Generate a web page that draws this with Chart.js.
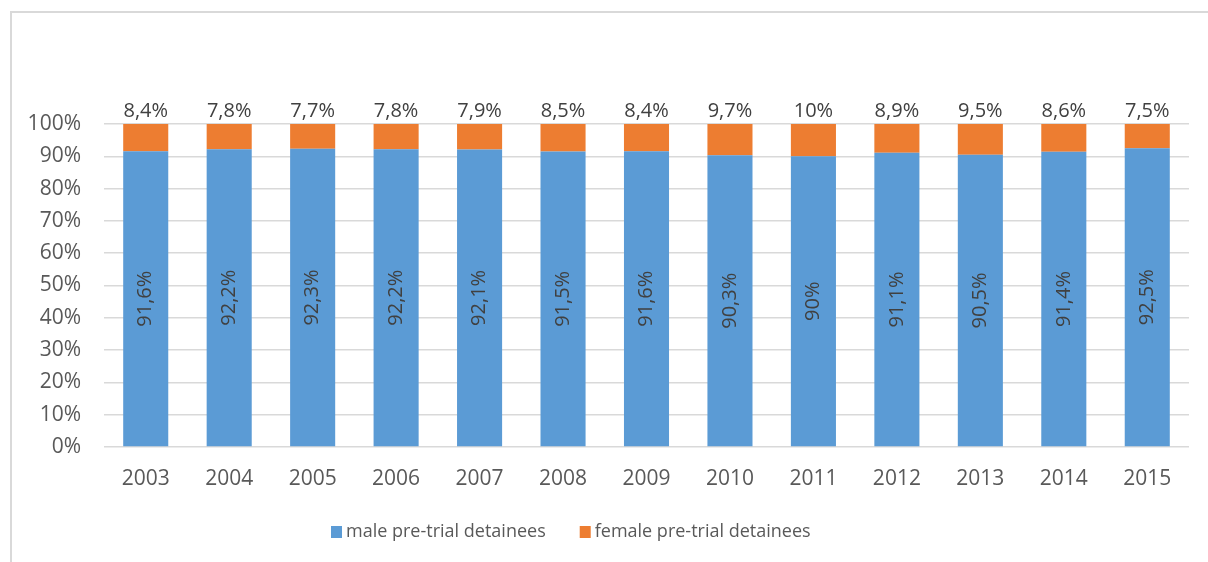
<!DOCTYPE html>
<html>
<head>
<meta charset="utf-8">
<script src="https://cdn.jsdelivr.net/npm/chart.js@4/dist/chart.umd.min.js"></script>
<style>
  html, body { margin: 0; padding: 0; background: #fff; overflow: hidden; }
  #wrap { position: relative; width: 1208px; height: 562px; }
  #frame { position: absolute; left: 10px; top: 11px; width: 1300px; height: 700px; border: 2px solid #d9d9d9; box-sizing: border-box; }
  canvas { position: absolute; left: 0; top: 0; }
</style>
</head>
<body>
<div id="wrap">
  <div id="frame"></div>
  <canvas id="c" width="1208" height="562"></canvas>
</div>
<script>
const years = ['2003','2004','2005','2006','2007','2008','2009','2010','2011','2012','2013','2014','2015'];
const maleValues = [91.6, 92.2, 92.3, 92.2, 92.1, 91.5, 91.6, 90.3, 90, 91.1, 90.5, 91.4, 92.5];
const femaleValues = [8.4, 7.8, 7.7, 7.8, 7.9, 8.5, 8.4, 9.7, 10, 8.9, 9.5, 8.6, 7.5];
const yTicks = [0, 10, 20, 30, 40, 50, 60, 70, 80, 90, 100];
const seriesNames = ['male pre-trial detainees', 'female pre-trial detainees'];

const FONT = "'Open Sans', 'Noto Sans', sans-serif";
const fmt = v => String(v).replace('.', ',') + '%';

const labelPlugin = {
  id: 'labels',
  afterDatasetsDraw(chart) {
    const ctx = chart.ctx;
    ctx.save();
    ctx.fillStyle = '#404040';
    ctx.font = '20px ' + FONT;
    // male labels rotated inside bars
    chart.getDatasetMeta(0).data.forEach((bar, i) => {
      const cy = (bar.y + bar.base) / 2;
      ctx.save();
      ctx.translate(bar.x, cy);
      ctx.rotate(-Math.PI / 2);
      ctx.textAlign = 'center';
      ctx.textBaseline = 'middle';
      ctx.fillText(fmt(maleValues[i]), 0, 0);
      ctx.restore();
    });
    // female labels above bars
    chart.getDatasetMeta(1).data.forEach((bar, i) => {
      ctx.textAlign = 'center';
      ctx.textBaseline = 'alphabetic';
      ctx.fillText(fmt(femaleValues[i]), bar.x, bar.y - 7);
    });
    // legend
    const colors = chart.data.datasets.map(d => d.backgroundColor);
    ctx.font = '18px ' + FONT;
    ctx.textBaseline = 'middle';
    ctx.textAlign = 'left';
    let x = 331;
    const y = 532;
    seriesNames.forEach((name, k) => {
      ctx.fillStyle = colors[k];
      ctx.fillRect(x, y - 6, 11, 12);
      ctx.fillStyle = '#595959';
      ctx.fillText(name, x + 15, y);
      x += 15 + ctx.measureText(name).width + 34;
    });
    ctx.restore();
  }
};

new Chart(document.getElementById('c'), {
  type: 'bar',
  data: {
    labels: years,
    datasets: [
      { label: seriesNames[0], data: maleValues, backgroundColor: '#5b9bd5', borderWidth: 0 },
      { label: seriesNames[1], data: femaleValues, backgroundColor: '#ed7d31', borderWidth: 0 }
    ]
  },
  options: {
    responsive: false,
    animation: false,
    devicePixelRatio: 1,
    layout: { padding: { left: 0, right: 19, top: 124, bottom: 0 } },
    plugins: { legend: { display: false }, tooltip: { enabled: false } },
    datasets: { bar: { categoryPercentage: 1, barPercentage: 0.54 } },
    scales: {
      x: {
        stacked: true,
        grid: { display: false, drawTicks: false },
        border: { display: false },
        ticks: { color: '#595959', font: { family: FONT, size: 21 }, padding: 19, maxRotation: 0 },
        afterFit(s) { s.height = 115; }
      },
      y: {
        stacked: true,
        min: 0, max: 100,
        afterBuildTicks(s) { s.ticks = yTicks.map(v => ({ value: v })); },
        grid: { color: '#d9d9d9', lineWidth: 1.5, drawTicks: false },
        border: { display: false },
        ticks: { color: '#595959', font: { family: FONT, size: 21 }, padding: 23, callback: v => v + '%' },
        afterFit(s) { s.width = 104; }
      }
    }
  },
  plugins: [labelPlugin]
});
</script>
</body>
</html>
